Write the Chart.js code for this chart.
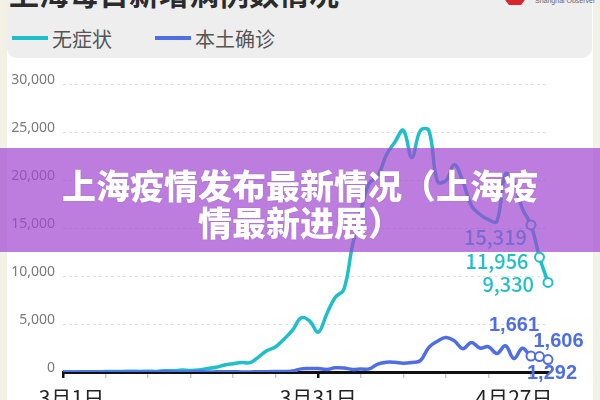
<!DOCTYPE html>
<html>
<head>
<meta charset="utf-8">
<script src="https://cdn.jsdelivr.net/npm/chart.js@4"></script>
<style>
  html, body { margin:0; padding:0; }
  body { width:600px; height:400px; overflow:hidden; position:relative; background:#f3f0e6; font-family:"Noto Sans CJK SC","Noto Sans",sans-serif; }
  .card { position:absolute; left:7px; top:0; width:586px; height:400px; background:#fff; }
  .header { position:absolute; left:7px; top:-12px; width:585px; height:70px; background:#eeeeee; border-radius:0 0 10px 10px; }
  .title { position:absolute; left:9px; top:-23px; font-size:30px; line-height:30px; font-weight:700; color:#2b2b2b; white-space:nowrap; }
  .logo { position:absolute; left:503px; top:-8px; width:24px; height:13px; background:#d8262c; clip-path:polygon(20% 0,80% 0,100% 40%,75% 100%,25% 100%,0 40%); }
  .logotext { position:absolute; left:535px; top:-3px; font-family:"Liberation Sans",sans-serif; font-size:7px; line-height:8px; color:#666; white-space:nowrap; }
  .leg { position:absolute; top:26px; height:24px; display:flex; align-items:center; font-size:20px; color:#555; white-space:nowrap; }
  .leg i { display:inline-block; width:36px; height:4px; margin-right:4px; }
  #wrap { position:absolute; left:0; top:0; width:600px; height:400px; }
  .banner { position:absolute; left:0; top:148px; width:600px; height:104px; background:rgba(160,70,210,0.7); color:#fff; text-align:center; font-size:34px; font-weight:900; line-height:37px; padding-top:18px; box-sizing:border-box; text-shadow:0 0 1px rgba(80,30,110,0.5); }
</style>
</head>
<body>
<div class="card"></div>
<div class="header"></div>
<div class="title">上海每日新增病例数情况</div>
<div class="logo"></div>
<div class="logotext">Shanghai Observer</div>
<div class="leg" style="left:12px;"><i style="background:#1ebfca"></i>无症状</div>
<div class="leg" style="left:155px;"><i style="background:#4f6ee6"></i>本土确诊</div>
<div id="wrap"><canvas id="c" width="600" height="400"></canvas></div>
<div class="banner">上海疫情发布最新情况（上海疫<br>情最新进展）</div>
<script>
const dates = ['3/1','3/2','3/3','3/4','3/5','3/6','3/7','3/8','3/9','3/10','3/11','3/12','3/13','3/14','3/15','3/16','3/17','3/18','3/19','3/20','3/21','3/22','3/23','3/24','3/25','3/26','3/27','3/28','3/29','3/30','3/31','4/1','4/2','4/3','4/4','4/5','4/6','4/7','4/8','4/9','4/10','4/11','4/12','4/13','4/14','4/15','4/16','4/17','4/18','4/19','4/20','4/21','4/22','4/23','4/24','4/25','4/26','4/27'];
const asymptomatic = [1,5,14,16,28,45,51,62,76,64,78,64,128,130,197,150,203,366,492,734,865,977,979,1580,2231,2631,3450,4381,5656,5298,4144,6051,7788,8581,13086,16766,19660,20398,22609,23937,25173,22348,25141,25146,19872,19923,21582,19831,17332,16407,15861,15698,20634,19657,16983,15319,11956,9330];
const confirmed = [1,3,2,3,0,3,4,3,4,11,5,1,41,9,5,8,57,8,17,24,31,4,4,29,38,45,50,96,326,355,358,260,438,425,268,311,322,824,1015,1006,914,994,1189,2573,3200,3590,3238,2417,3084,2494,2634,1931,2736,1401,2472,1661,1606,1292];
const seriesNames = ['无症状','本土确诊'];
const xTickText = ['3月1日','3月31日','4月27日'];
const xTickAt = ['3/2','3/31','4/23'];
const yTicks = [0,5000,10000,15000,20000,25000,30000];
const labelledDates = ['4/25','4/26','4/27'];

const TEAL = '#1ebfca', BLUE = '#4f6ee6';
const markedIdx = labelledDates.map(d => dates.indexOf(d));

// label styles / offsets for the annotated points
const tealLabels = { color: TEAL, font: '500 20px "Noto Sans CJK SC"', items: [[-4,12,'right'],[-11,4,'right'],[-14,2,'right']] };
const blueLabels = { color: BLUE, font: 'bold 20px "Liberation Sans"', items: [[-17,-31,'center'],[19,-15,'center'],[4,14,'center']] };

const pointLabels = {
  id: 'pointLabels',
  afterDatasetsDraw(chart) {
    const ctx = chart.ctx;
    ctx.save();
    chart.data.datasets.forEach((ds, di) => {
      const meta = chart.getDatasetMeta(di);
      const st = ds.pointLabelStyle;
      markedIdx.forEach((idx, k) => {
        const el = meta.data[idx];
        const [dx, dy, al] = st.items[k];
        ctx.font = st.font;
        ctx.fillStyle = st.color;
        ctx.textAlign = al;
        ctx.textBaseline = 'middle';
        ctx.fillText(ds.data[idx].toLocaleString('en-US'), el.x + dx, el.y + dy);
      });
    });
    ctx.restore();
  }
};

const mkDs = (label, data, color, lab) => ({
  label, data,
  pointLabelStyle: lab,
  borderColor: color,
  borderWidth: 3.5,
  tension: 0.4,
  fill: false,
  pointRadius: c => markedIdx.includes(c.dataIndex) ? 4.5 : 0,
  pointBackgroundColor: '#fff',
  pointBorderColor: color,
  pointBorderWidth: 2
});

new Chart(document.getElementById('c'), {
  type: 'line',
  data: {
    labels: dates,
    datasets: [ mkDs(seriesNames[1], confirmed, BLUE, blueLabels), mkDs(seriesNames[0], asymptomatic, TEAL, tealLabels) ]
  },
  options: {
    responsive: false,
    animation: false,
    layout: { padding: { left: 0, right: 52, top: 84, bottom: 0 } },
    plugins: { legend: { display: false }, tooltip: { enabled: false } },
    scales: {
      x: {
        type: 'category',
        offset: false,
        border: { display: true, color: '#111', width: 3 },
        grid: {
          drawOnChartArea: false,
          drawTicks: true,
          tickLength: 6,
          color: c => (c.index === 0 || c.index === 30) ? '#111' : (c.index % 5 === 0 ? '#c8c8c8' : 'rgba(0,0,0,0)'),
          lineWidth: c => (c.index === 0 || c.index === 30) ? 2.5 : 1.5
        },
        ticks: {
          autoSkip: false,
          maxRotation: 0,
          padding: 7,
          color: '#222',
          font: { family: '"Noto Sans CJK SC"', size: 21 },
          callback: (v, i) => { const k = xTickAt.indexOf(dates[i]); return k >= 0 ? xTickText[k] : ''; }
        },
        afterFit: s => { s.height = 28; }
      },
      y: {
        min: 0, max: 30000,
        border: { display: false, dash: [3,3] },
        grid: { drawTicks: false, color: '#e2e2e2', lineWidth: 1 },
        ticks: {
          padding: 8,
          labelOffset: -4,
          color: '#7a7a7a',
          font: { family: '"Noto Sans"', size: 14 },
          callback: v => v.toLocaleString('en-US')
        },
        afterBuildTicks: s => { s.ticks = yTicks.map(v => ({ value: v })); },
        afterFit: s => { s.width = 63; }
      }
    }
  },
  plugins: [pointLabels]
});
</script>
</body>
</html>
